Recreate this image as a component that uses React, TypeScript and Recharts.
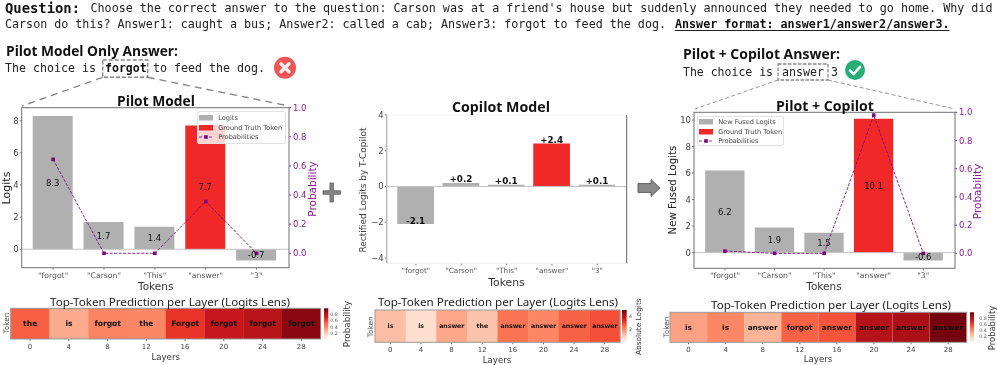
import React from "react";
import { ComposedChart, BarChart, Bar, Line, XAxis, YAxis, Cell, LabelList, Legend, ReferenceLine } from "recharts";

// ---------- data ----------
const tokens = ['"forgot"', '"Carson"', '"This"', '"answer"', '"3"'];

const pilotLogits = [8.3, 1.7, 1.4, null, -0.7];
const pilotTruth = [null, null, null, 7.7, null];
const pilotProbs = [0.645, 0, 0, 0.355, 0];

const copilotLogits = [-2.1, 0.2, 0.1, null, 0.1];
const copilotTruth = [null, null, null, 2.4, null];

const fusedLogits = [6.2, 1.9, 1.5, null, -0.6];
const fusedTruth = [null, null, null, 10.1, null];
const fusedProbs = [0.016, 0, 0, 0.98, 0];

const layers = ["0", "4", "8", "12", "16", "20", "24", "28"];
const pilotLensTokens = ["the", "is", "forgot", "the", "Forgot", "forgot", "forgot", "forgot"];
const pilotLensValues = [0.53, 0.3, 0.42, 0.41, 0.65, 0.76, 0.81, 0.93];
const copilotLensTokens = ["is", "is", "answer", "the", "answer", "answer", "answer", "answer"];
const copilotLensValues = [1.2, 0.65, 1.55, 1.1, 2.35, 2.05, 2.6, 2.85];
const fusedLensTokens = ["is", "is", "answer", "forgot", "answer", "answer", "answer", "answer"];
const fusedLensValues = [0.33, 0.41, 0.27, 0.52, 0.56, 0.82, 0.86, 0.97];

// ---------- helpers ----------
const DV = "'DejaVu Sans', sans-serif";
const MONO = "'DejaVu Sans Mono', monospace";
const HEAD = "'Open Sans', 'Noto Sans', sans-serif";
const NOTO = "'Noto Sans', sans-serif";
const PURPLE = "#8c1a94";
const GRAY = "#b0b0b0";
const RED = "#f02828";

const REDS = ["#fff5f0", "#fee0d2", "#fcbba1", "#fc9272", "#fb6a4a", "#ef3b2c", "#cb181d", "#a50f15", "#67000d"];
function reds(t: number) {
  const p = Math.max(0, Math.min(1, t)) * (REDS.length - 1);
  const i = Math.min(REDS.length - 2, Math.floor(p));
  const f = p - i;
  const hex = (s: string, k: number) => parseInt(s.slice(1 + 2 * k, 3 + 2 * k), 16);
  const c = [0, 1, 2].map((k) => Math.round(hex(REDS[i], k) * (1 - f) + hex(REDS[i + 1], k) * f));
  return `rgb(${c[0]},${c[1]},${c[2]})`;
}

const SquareDot = (props: any) => {
  const { cx, cy, index } = props;
  if (cx == null || cy == null) return <g key={index} />;
  return <rect key={index} x={cx - 1.8} y={cy - 1.8} width={3.6} height={3.6} fill="#800080" />;
};

const LegendBox = ({ payload, fontSize, padTop }: any) => (
  <div style={{ background: "rgba(255,255,255,0.8)", border: "1px solid #e2e2e2", borderRadius: 2, padding: `${padTop}px 0 0 1px`, boxSizing: "border-box", height: "100%" }}>
    {(payload || []).map((e: any) => (
      <div key={e.value} style={{ display: "flex", alignItems: "center", height: 9.7, fontFamily: DV, fontSize, color: "#444", whiteSpace: "nowrap" }}>
        <svg width={14} height={6} style={{ marginRight: 5.5, flex: "none" }}>
          {e.type === "line" ? (
            <g>
              <line x1={0} y1={3} x2={14} y2={3} stroke="#800080" strokeWidth={1} strokeDasharray="3 2" opacity={0.8} />
              <rect x={5.2} y={1.2} width={3.6} height={3.6} fill="#800080" />
            </g>
          ) : (
            <rect x={0} y={0} width={14} height={5.5} fill={e.color} />
          )}
        </svg>
        {e.value}
      </div>
    ))}
  </div>
);

const BoldEndLabel = (props: any) => {
  const { x, y, width, value } = props;
  if (value == null) return null;
  const txt = value > 0 ? `+${value.toFixed(1)}` : value.toFixed(1);
  return (
    <text x={x + width / 2} y={y - 0.5} textAnchor="middle" fontFamily={DV} fontWeight={700} fontSize={8.8} fill="#111">
      {txt}
    </text>
  );
};

type BarProps = {
  logits: (number | null)[];
  truth: (number | null)[];
  probs?: number[];
  logitName: string;
  domain: [number, number];
  ticks: number[];
  probMin?: number;
  box: { l: number; r: number; t: number; b: number };
  pad: { left: number; right: number };
  barSize: number;
  bold?: boolean;
  legend?: { left: number; top: number; width: number; height: number; padTop: number };
  tickX: number;
};

function BarPanel({ logits, truth, probs, logitName, domain, ticks, probMin, box, pad, barSize, bold, legend, tickX }: BarProps) {
  const data = tokens.map((token, i) => ({ token, logit: logits[i], truth: truth[i], prob: probs ? probs[i] : null }));
  const W = box.r + 40;
  const H = box.b + 24;
  const label = bold
    ? { content: (p: any) => <BoldEndLabel {...p} /> }
    : { position: "center" as const, fontFamily: DV, fontSize: 8.5, fill: "#111", formatter: (v: any) => (v == null ? "" : Number(v).toFixed(1)) };
  return (
    <div style={{ position: "absolute", left: 0, top: 0, width: W, height: H }}>
      <ComposedChart width={W} height={H} data={data} margin={{ top: box.t, left: 0, right: probs ? 0 : W - box.r, bottom: 0 }}>
        <XAxis dataKey="token" padding={pad} height={H - box.b} interval={0} axisLine={false} tickSize={2} tickMargin={2.5}
          tick={{ fontFamily: DV, fontSize: tickX, fill: "#555" }} tickLine={{ stroke: "#777" }} />
        <YAxis yAxisId="logit" width={box.l} domain={domain} ticks={ticks} allowDataOverflow interval={0} axisLine={false} tickSize={2} tickMargin={1}
          tick={{ fontFamily: DV, fontSize: 8.5, fill: "#444" }} tickLine={{ stroke: "#777" }}
          tickFormatter={(v: number) => String(v).replace("-", "\u2212")} />
        {probs && (
          <YAxis yAxisId="prob" orientation="right" width={W - box.r} domain={[probMin as number, 1]} ticks={[0, 0.2, 0.4, 0.6, 0.8, 1]} allowDataOverflow interval={0}
            axisLine={false} tickSize={2} tickMargin={2} tick={{ fontFamily: DV, fontSize: 8.5, fill: PURPLE }} tickLine={{ stroke: PURPLE }}
            tickFormatter={(v: number) => v.toFixed(1)} />
        )}
        <ReferenceLine yAxisId="logit" y={0} stroke="#c4c4c4" strokeWidth={1} />
        <Bar yAxisId="logit" dataKey="logit" name={logitName} stackId="s" fill={GRAY} barSize={barSize} isAnimationActive={false}>
          <LabelList dataKey="logit" {...label} />
        </Bar>
        <Bar yAxisId="logit" dataKey="truth" name="Ground Truth Token" stackId="s" fill={RED} barSize={barSize} isAnimationActive={false}>
          <LabelList dataKey="truth" {...label} />
        </Bar>
        {probs && (
          <Line yAxisId="prob" dataKey="prob" name="Probabilities" stroke="#800080" strokeWidth={1} strokeDasharray="3 1.5" strokeOpacity={0.85} dot={<SquareDot />} activeDot={false} isAnimationActive={false} />
        )}
        {legend && (
          <Legend layout="vertical" align="center" verticalAlign="middle" itemSorter={null}
            wrapperStyle={{ position: "absolute", left: legend.left, top: legend.top, width: legend.width, height: legend.height, margin: 0 }}
            content={(p: any) => <LegendBox payload={p.payload} fontSize={6.6} padTop={legend.padTop} />} />
        )}
      </ComposedChart>
    </div>
  );
}

type HeatProps = { words: string[]; values: number[]; vmax: number; box: { l: number; r: number; t: number; b: number }; fontSize: number };

function HeatPanel({ words, values, vmax, box, fontSize }: HeatProps) {
  const data = layers.map((layer, i) => ({ layer, row: 1, value: values[i], word: words[i] }));
  const H = box.b + 14;
  return (
    <div style={{ position: "absolute", left: 0, top: 0, width: box.r + 1, height: H }}>
      <BarChart width={box.r + 1} height={H} data={data} barCategoryGap={0} margin={{ top: box.t, left: box.l, right: 1, bottom: 0 }}>
        <XAxis dataKey="layer" height={H - box.b} interval={0} axisLine={false} tickSize={2} tickMargin={3}
          tick={{ fontFamily: DV, fontSize: 7, fill: "#444" }} tickLine={{ stroke: "#777" }} />
        <YAxis hide domain={[0, 1]} />
        <Bar dataKey="row" isAnimationActive={false}>
          {data.map((d) => (
            <Cell key={d.layer} fill={reds(d.value / vmax)} />
          ))}
          <LabelList dataKey="word" position="center" fontFamily={DV} fontWeight={700} fontSize={fontSize} fill="#111" />
        </Bar>
      </BarChart>
    </div>
  );
}

const T = ({ x, y, s, f = DV, w = 400, c = "#222", rot, a = "middle", children, len }: any) => (
  <text x={x} y={y} fontSize={s} fontFamily={f} fontWeight={w} fill={c} textAnchor={a} dominantBaseline="central"
    textLength={len} lengthAdjust={len ? "spacingAndGlyphs" : undefined}
    transform={rot ? `rotate(-90 ${x} ${y})` : undefined} xmlSpace="preserve">
    {children}
  </text>
);

const Frame = ({ b, c = "#707070" }: any) => <rect x={b.l} y={b.t} width={b.r - b.l} height={b.b - b.t} fill="none" stroke={c} strokeWidth={1} />;

const Colorbar = ({ x, w, t, b, labels, tx }: any) => (
  <g>
    <rect x={x} y={t} width={w} height={b - t} fill="url(#redsBar)" />
    {labels.map(([lab, y]: any) => (
      <T key={lab} x={tx} y={y} s={4.8} c="#555">{lab}</T>
    ))}
  </g>
);

const HEAT_TITLE = "Top-Token Prediction per Layer (Logits Lens)";

const box1 = { l: 21.7, r: 289, t: 107.7, b: 267.7 };
const box2 = { l: 386.7, r: 626.7, t: 115, b: 263.3 };
const box3 = { l: 694, r: 955, t: 112.3, b: 268.3 };
const heat1 = { l: 10.7, r: 320.7, t: 308.3, b: 339 };
const heat2 = { l: 375, r: 620, t: 310, b: 342.3 };
const heat3 = { l: 670, r: 966.7, t: 312.3, b: 342.3 };

function Overlay() {
  return (
    <svg width={997} height={365} style={{ position: "absolute", left: 0, top: 0, pointerEvents: "none" }}>
      <defs>
        <linearGradient id="redsBar" x1="0" y1="1" x2="0" y2="0">
          {REDS.map((c, i) => (
            <stop key={c} offset={i / (REDS.length - 1)} stopColor={c} />
          ))}
        </linearGradient>
      </defs>

      {/* prompt */}
      <T x={5} y={8} s={13.9} f={MONO} w={700} a="start" c="#111" len={75}>Question:</T>
      <T x={90.5} y={8} s={11.6} f={MONO} a="start" c="#222" len={902}>Choose the correct answer to the question: Carson was at a friend's house but suddenly announced they needed to go home. Why did</T>
      <T x={5} y={24} s={11.6} f={MONO} a="start" c="#222" len={661}>Carson do this? Answer1: caught a bus; Answer2: called a cab; Answer3: forgot to feed the dog.</T>
      <T x={675} y={24} s={11.6} f={MONO} w={700} a="start" c="#111" len={274.5}>Answer format: answer1/answer2/answer3.</T>
      <line x1={675} y1={30.5} x2={949.5} y2={30.5} stroke="#222" strokeWidth={1.2} />

      {/* answers */}
      <T x={6} y={50} s={14} f={HEAD} w={700} a="start" c="#111" len={172}>Pilot Model Only Answer:</T>
      <T x={5} y={68} s={11.6} f={MONO} a="start" len={91}>The choice is</T>
      <T x={105} y={68} s={11.6} f={MONO} w={700} a="start" c="#111" len={41.7}>forgot</T>
      <T x={153} y={68} s={11.6} f={MONO} a="start" len={112}>to feed the dog.</T>
      <rect x={102.7} y={60} width={45} height={17.3} fill="none" stroke="#888" strokeWidth={1.4} strokeDasharray="4 2" />
      <circle cx={285} cy={67.7} r={11} fill="#ee5555" />
      <path d="M281 63.7 L289 71.7 M289 63.7 L281 71.7" stroke="#f6eef2" strokeWidth={3.4} strokeLinecap="round" />
      <line x1={102.7} y1={77.3} x2={22} y2={106} stroke="#888" strokeWidth={1.4} strokeDasharray="7 5" />
      <line x1={147.7} y1={77.3} x2={289} y2={106} stroke="#888" strokeWidth={1.4} strokeDasharray="7 5" />

      <T x={683} y={53} s={14} f={HEAD} w={700} a="start" c="#111" len={157}>Pilot + Copilot Answer:</T>
      <T x={683} y={72} s={11.6} f={MONO} a="start" len={90}>The choice is</T>
      <T x={782} y={72} s={11.6} f={MONO} a="start" len={42}>answer</T>
      <T x={831} y={72} s={11.6} f={MONO} a="start">3</T>
      <rect x={778} y={64} width={50} height={16} fill="none" stroke="#888" strokeWidth={1.3} strokeDasharray="3.5 1.5" />
      <circle cx={855} cy={70} r={10} fill="#27ae76" />
      <path d="M850 70.5 L853.6 74 L860 66.8" fill="none" stroke="#fff" strokeWidth={2.6} strokeLinecap="round" strokeLinejoin="round" />
      <line x1={778} y1={80} x2={695} y2={109} stroke="#999" strokeWidth={1} strokeDasharray="4 2.5" />
      <line x1={828} y1={80} x2={955} y2={109} stroke="#999" strokeWidth={1} strokeDasharray="4 2.5" />

      {/* frames */}
      <Frame b={box1} />
      <line x1={box2.l} y1={box2.t} x2={box2.r} y2={box2.t} stroke="#f0f0f0" strokeWidth={1} />
      <line x1={box2.l} y1={box2.b} x2={box2.r} y2={box2.b} stroke="#eee" strokeWidth={1} />
      <line x1={box2.l} y1={box2.t} x2={box2.l} y2={box2.b} stroke="#bbb" strokeWidth={1.5} />
      <line x1={box2.r} y1={box2.t} x2={box2.r} y2={box2.b} stroke="#666" strokeWidth={1} />
      <Frame b={box3} />
      <Frame b={heat1} c="#999" />
      <Frame b={heat2} c="#999" />
      <Frame b={heat3} c="#999" />

      {/* pilot */}
      <T x={156} y={100.7} s={14} f={HEAD} w={700} c="#111" len={78}>Pilot Model</T>
      <T x={6} y={188} s={11} rot={1} c="#222">Logits</T>
      <T x={311.5} y={189} s={10.5} rot={1} c={PURPLE}>Probability</T>
      <T x={155.7} y={286} s={10.5} c="#333">Tokens</T>

      {/* copilot */}
      <T x={501} y={106.7} s={14} f={HEAD} w={700} c="#111" len={98}>Copilot Model</T>
      <T x={362.5} y={190} s={9} rot={1} c="#444">Rectified Logits by T-Copilot</T>
      <T x={506.5} y={282} s={10.8} c="#333">Tokens</T>

      {/* fused */}
      <T x={825} y={105} s={14} f={HEAD} w={700} c="#111" len={98}>Pilot + Copilot</T>
      <T x={672.7} y={190} s={10.2} rot={1} c="#222">New Fused Logits</T>
      <T x={976.7} y={191.5} s={10.5} rot={1} c={PURPLE}>Probability</T>
      <T x={824} y={286} s={10.5} c="#333">Tokens</T>

      {/* plus and arrow */}
      <path d="M330 183 h3.4 v7.8 h7 v3.4 h-7 v7.8 h-3.4 v-7.8 h-7 v-3.4 h7 z" fill="#888" stroke="#555" strokeWidth={0.8} />
      <path d="M638 183.6 h13 v-4 l9 8.4 l-9 8.4 v-4 h-13 z" fill="#8a8a8a" stroke="#555" strokeWidth={0.9} />

      {/* lens 1 */}
      <T x={170} y={301} s={11.4} f={NOTO} c="#222" len={240}>{HEAT_TITLE}</T>
      <T x={6} y={323} s={7.4} rot={1} c="#444">Token</T>
      <T x={165.7} y={356.7} s={8.6} c="#333">Layers</T>
      <Colorbar x={324} w={4.3} t={308.3} b={339} tx={334} labels={[["0.2", 333], ["0.4", 327], ["0.6", 320.5], ["0.8", 314.5]]} />
      <T x={346.7} y={324} s={8.8} rot={1} c="#333">Probability</T>

      {/* lens 2 */}
      <T x={498} y={301.7} s={11.4} f={NOTO} c="#222" len={240}>{HEAT_TITLE}</T>
      <T x={370.7} y={326.7} s={7.4} rot={1} c="#444">Token</T>
      <T x={497} y={360} s={8.6} c="#333">Layers</T>
      <Colorbar x={622} w={4.7} t={310} b={342.3} tx={630.5} labels={[["4", 316.7], ["2", 329.3]]} />
      <T x={638.5} y={326.7} s={7.4} rot={1} c="#333">Absolute Logits</T>

      {/* lens 3 */}
      <T x={831} y={304} s={11.4} f={NOTO} c="#222" len={240}>{HEAT_TITLE}</T>
      <T x={666} y={327} s={7.4} rot={1} c="#444">Token</T>
      <T x={818} y={359} s={8.6} c="#333">Layers</T>
      <Colorbar x={970} w={4} t={312.3} b={342.3} tx={983} labels={[["0.2", 336.5], ["0.4", 330.5], ["0.6", 324.5], ["0.8", 318.5]]} />
      <T x={992} y={328} s={8.4} rot={1} c="#333">Probability</T>
    </svg>
  );
}

export default function App() {
  return (
    <div style={{ position: "absolute", left: 0, top: 0, width: 997, height: 365, overflow: "hidden", background: "#fff", filter: "blur(0.3px)" }}>
      <BarPanel logits={pilotLogits} truth={pilotTruth} probs={pilotProbs} logitName="Logits" domain={[-1.145, 8.81]} ticks={[0, 2, 4, 6, 8]} probMin={-0.099}
        box={box1} pad={{ left: 6, right: 7 }} barSize={40} tickX={7.7} legend={{ left: 196.7, top: 111, width: 89.3, height: 32.5, padTop: 1 }} />
      <BarPanel logits={copilotLogits} truth={copilotTruth} logitName="Logits" domain={[-4.29, 3.99]} ticks={[-4, -2, 0, 2, 4]}
        box={box2} pad={{ left: 6.6, right: 6.8 }} barSize={36.7} bold tickX={7.2} />
      <BarPanel logits={fusedLogits} truth={fusedTruth} probs={fusedProbs} logitName="New Fused Logits" domain={[-1.18, 10.58]} ticks={[0, 2, 4, 6, 8, 10]} probMin={-0.106}
        box={box3} pad={{ left: 6.2, right: 6.9 }} barSize={39.3} tickX={7.7} legend={{ left: 696.7, top: 116, width: 87.3, height: 30, padTop: 0 }} />
      <HeatPanel words={pilotLensTokens} values={pilotLensValues} vmax={1} box={heat1} fontSize={7.6} />
      <HeatPanel words={copilotLensTokens} values={copilotLensValues} vmax={5} box={heat2} fontSize={6.2} />
      <HeatPanel words={fusedLensTokens} values={fusedLensValues} vmax={1} box={heat3} fontSize={7.4} />
      <Overlay />
    </div>
  );
}
